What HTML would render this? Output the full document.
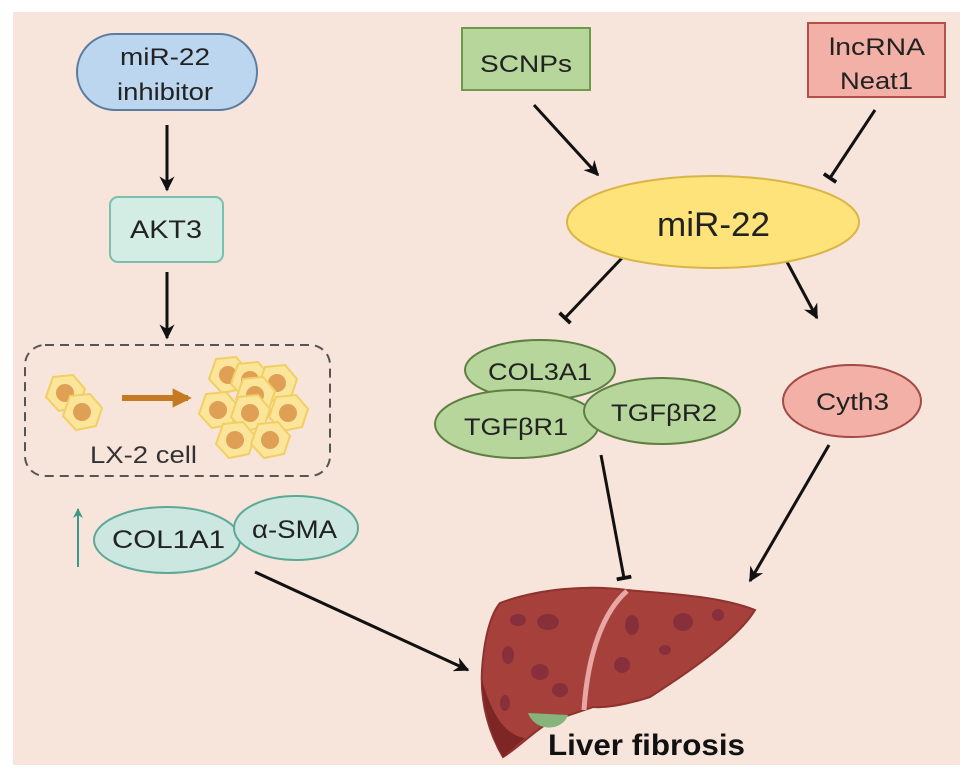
<!DOCTYPE html>
<html><head><meta charset="utf-8"><style>
html,body{margin:0;padding:0;background:#fff;}
svg{display:block;font-family:"Liberation Sans",sans-serif;}
</style></head><body>
<svg width="969" height="779" viewBox="0 0 969 779" xmlns="http://www.w3.org/2000/svg">
<defs>
<marker id="ah" viewBox="0 0 10 10" refX="9" refY="5" markerWidth="5" markerHeight="5" orient="auto"><path d="M0,0 L10,5 L0,10 L3,5 z" fill="#111"/></marker>
<marker id="ahT" viewBox="0 0 10 10" refX="9" refY="5" markerWidth="5" markerHeight="5" orient="auto"><path d="M0,0 L10,5 L0,10 L3,5 z" fill="#3a9a88"/></marker>
<marker id="ahO" viewBox="0 0 10 10" refX="8" refY="5" markerWidth="3.2" markerHeight="3.2" orient="auto"><path d="M0,0 L10,5 L0,10 z" fill="#c47a22"/></marker>
<marker id="tb" viewBox="0 0 10 10" refX="5" refY="5" markerWidth="5" markerHeight="5" orient="auto"><path d="M5,0 L5,10" stroke="#111" stroke-width="2.5"/></marker>
<g id="cell"><path d="M-12,-16 L8,-18 L20,-4 L14,14 L-6,18 L-19,4 Z" fill="#fbe59a" stroke="#f2cf62" stroke-width="2"/><circle r="9" fill="#dfa055"/></g>
</defs>
<rect x="13" y="12" width="947" height="753" fill="#f7e4da"/>

<g stroke-width="3">
<line x1="167" y1="125" x2="167" y2="190" stroke="#111" marker-end="url(#ah)"/>
<line x1="167" y1="272" x2="167" y2="338" stroke="#111" marker-end="url(#ah)"/>
<line x1="255" y1="572" x2="468" y2="670" stroke="#111" marker-end="url(#ah)"/>
<line x1="534" y1="105" x2="598" y2="175" stroke="#111" marker-end="url(#ah)"/>
<line x1="875" y1="110" x2="830" y2="178" stroke="#111" marker-end="url(#tb)"/>
<line x1="622" y1="258" x2="565" y2="318" stroke="#111" marker-end="url(#tb)"/>
<line x1="786" y1="260" x2="817" y2="318" stroke="#111" marker-end="url(#ah)"/>
<line x1="601" y1="455" x2="624" y2="578" stroke="#111" marker-end="url(#tb)"/>
<line x1="829" y1="445" x2="750" y2="581" stroke="#111" marker-end="url(#ah)"/>
</g>

<!-- left column -->
<rect x="77" y="34" width="180" height="76" rx="38" fill="#bcd6ef" stroke="#5c7c9e" stroke-width="2"/>
<text x="120" y="65" font-size="24" textLength="90" lengthAdjust="spacingAndGlyphs" fill="#222">miR-22</text>
<text x="117" y="100" font-size="24" textLength="96" lengthAdjust="spacingAndGlyphs" fill="#222">inhibitor</text>
<rect x="110" y="197" width="113" height="65" rx="8" fill="#d3ece4" stroke="#7cbfae" stroke-width="2"/>
<text x="130" y="238" font-size="25" textLength="72" lengthAdjust="spacingAndGlyphs" fill="#222">AKT3</text>
<rect x="25" y="345" width="305" height="131" rx="20" fill="none" stroke="#555" stroke-width="2" stroke-dasharray="9,6"/>
<use href="#cell" x="65" y="393"/><use href="#cell" x="82" y="412"/>
<line x1="122" y1="398" x2="188" y2="398" stroke="#c47a22" stroke-width="6" marker-end="url(#ahO)"/>
<use href="#cell" x="228" y="375"/><use href="#cell" x="250" y="380"/><use href="#cell" x="277" y="383"/>
<use href="#cell" x="255" y="395"/><use href="#cell" x="218" y="410"/><use href="#cell" x="250" y="413"/><use href="#cell" x="288" y="413"/>
<use href="#cell" x="235" y="440"/><use href="#cell" x="270" y="440"/>
<text x="90" y="463" font-size="24" textLength="107" lengthAdjust="spacingAndGlyphs" fill="#333">LX-2 cell</text>

<ellipse cx="167" cy="540" rx="73" ry="33" fill="#cbe7e0" stroke="#5ea898" stroke-width="2"/>
<ellipse cx="296" cy="528" rx="62" ry="32" fill="#cbe7e0" stroke="#5ea898" stroke-width="2"/>
<text x="112" y="548" font-size="25" textLength="113" lengthAdjust="spacingAndGlyphs" fill="#222">COL1A1</text>
<text x="252" y="538" font-size="25" textLength="85" lengthAdjust="spacingAndGlyphs" fill="#222">α-SMA</text>
<line x1="78" y1="567" x2="78" y2="509" stroke="#3a9a88" stroke-width="2" marker-end="url(#ahT)"/>

<!-- right -->
<rect x="462" y="28" width="128" height="62" fill="#b6d69c" stroke="#6f9a4c" stroke-width="2"/>
<text x="480" y="72" font-size="24" textLength="92" lengthAdjust="spacingAndGlyphs" fill="#222">SCNPs</text>
<rect x="808" y="23" width="137" height="74" fill="#f2b0a6" stroke="#b2514a" stroke-width="2"/>
<text x="829" y="55" font-size="24" textLength="96" lengthAdjust="spacingAndGlyphs" fill="#222">lncRNA</text>
<text x="840" y="89" font-size="24" textLength="73" lengthAdjust="spacingAndGlyphs" fill="#222">Neat1</text>
<ellipse cx="713" cy="222" rx="146" ry="46" fill="#fde37a" stroke="#d9b548" stroke-width="2"/>
<text x="657" y="236" font-size="34" textLength="113" lengthAdjust="spacingAndGlyphs" fill="#222">miR-22</text>

<ellipse cx="540" cy="370" rx="75" ry="30" fill="#b6d69c" stroke="#5e7e44" stroke-width="2"/>
<text x="488" y="380" font-size="24" textLength="104" lengthAdjust="spacingAndGlyphs" fill="#222">COL3A1</text>
<ellipse cx="517" cy="424" rx="82" ry="34" fill="#b6d69c" stroke="#5e7e44" stroke-width="2"/>
<text x="464" y="435" font-size="24" textLength="104" lengthAdjust="spacingAndGlyphs" fill="#222">TGFβR1</text>
<ellipse cx="662" cy="411" rx="78" ry="33" fill="#b6d69c" stroke="#5e7e44" stroke-width="2"/>
<text x="611" y="421" font-size="24" textLength="106" lengthAdjust="spacingAndGlyphs" fill="#222">TGFβR2</text>
<ellipse cx="852" cy="401" rx="69" ry="36" fill="#f2b0a6" stroke="#a24a44" stroke-width="2"/>
<text x="816" y="410" font-size="24" textLength="73" lengthAdjust="spacingAndGlyphs" fill="#222">Cyth3</text>

<!-- liver -->
<path d="M500,603 C540,588 590,585 627,590 C670,594 720,596 755,610 C740,635 700,665 650,697 C625,705 605,708 593,707 C580,712 560,717 545,725 C530,735 515,750 503,757 C490,735 480,705 482,670 C484,640 490,615 500,603 Z" fill="#a6403a" stroke="#8e3230" stroke-width="2"/>
<path d="M503,757 C490,735 483,705 482,680 C492,715 505,735 525,738 Z" fill="#7e2626"/>
<path d="M627,591 C605,610 588,650 584,710" stroke="#e8a7a5" stroke-width="5" fill="none"/>
<path d="M528,713 C535,732 562,732 568,715 Z" fill="#86b47a"/>
<g fill="#7a2a3e" opacity="0.7">
<ellipse cx="518" cy="620" rx="8" ry="6"/><ellipse cx="548" cy="622" rx="11" ry="8"/><ellipse cx="508" cy="655" rx="6" ry="9"/>
<ellipse cx="540" cy="672" rx="9" ry="8"/><ellipse cx="560" cy="690" rx="8" ry="7"/><ellipse cx="505" cy="703" rx="5" ry="8"/>
<ellipse cx="632" cy="625" rx="7" ry="10"/><ellipse cx="683" cy="622" rx="10" ry="9"/><ellipse cx="718" cy="615" rx="6" ry="6"/>
<ellipse cx="622" cy="665" rx="8" ry="8"/><ellipse cx="665" cy="650" rx="6" ry="5"/>
</g>
<text x="548" y="755" font-size="30" font-weight="bold" textLength="197" lengthAdjust="spacingAndGlyphs" fill="#111">Liver fibrosis</text>
</svg>
</body></html>
